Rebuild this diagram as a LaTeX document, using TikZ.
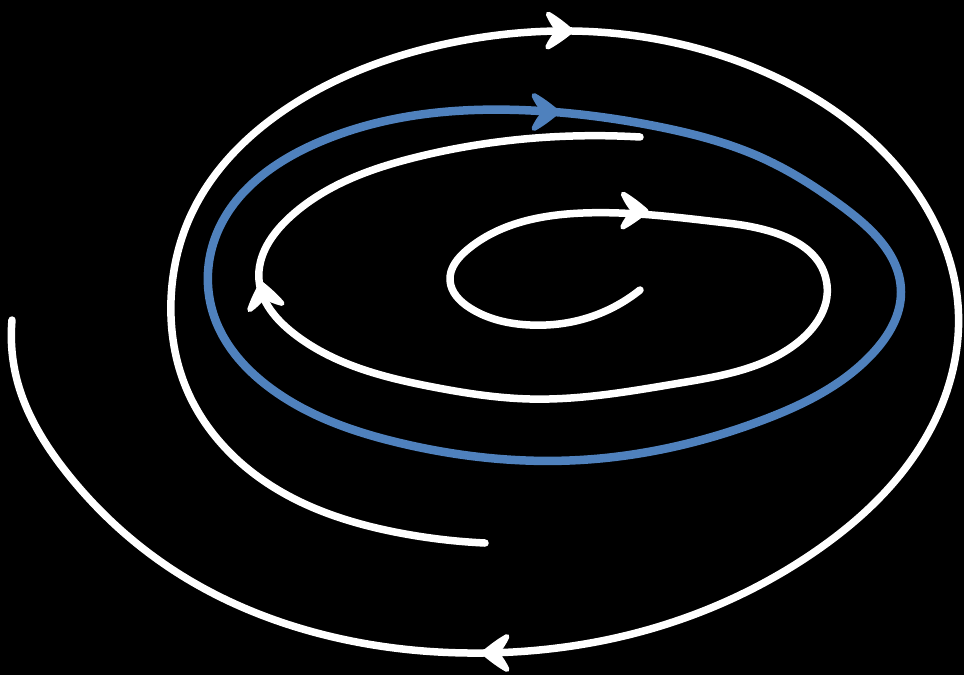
\documentclass[tikz,border=0pt]{standalone}
\usetikzlibrary{hobby}
\definecolor{cycleblue}{RGB}{79,129,189}
\begin{document}
\begin{tikzpicture}[x=1pt,y=-1pt,
  flow/.style={draw=white, line width=7.5pt, line cap=round, line join=round},
  limit/.style={draw=cycleblue, line width=8.5pt, line join=round},
  pics/headtip/.style={code={
    \filldraw[#1, line width=5pt, line join=round]
      (0,0) .. controls (-7,-6) and (-15,-12) .. (-23,-16.5)
      .. controls (-20,-10) and (-16,-4) .. (-12,0)
      .. controls (-16,4) and (-20,10) .. (-23,16.5)
      .. controls (-15,12) and (-7,6) .. (0,0) -- cycle;}}]
\fill[black] (0,0) rectangle (964,675);
\useasboundingbox (0,0) rectangle (964,675);
% limit cycle
\draw[limit, use Hobby shortcut, closed=true]
  (540,111) .. (660,127) .. (760,157) .. (843,207) .. (901,292)
  .. (873,353) .. (763,420) .. (580,460) .. (400,443)
  .. (273,390) .. (213,313) .. (217,233) .. (317,143) .. (540,111);
% outer spiral
\draw[flow, use Hobby shortcut]
  (485,543) .. (400,533) .. (267,483) .. (187,390)
  .. (171,300) .. (190,217) .. (300,100) .. (450,43)
  .. (572,31) .. (760,70) .. (910,183) .. (958,305)
  .. (930,430) .. (813,553) .. (647,630)
  .. (483,653) .. (333,637) .. (173,570)
  .. (67,473) .. (17,380) .. (12,320);
% inner spiral
\draw[flow, use Hobby shortcut]
  (640,290) .. (580,320) .. (530,325) .. (470,308) .. (450,280) .. (467,250)
  .. (583,213) .. (727,223) .. (827,285)
  .. (797,343) .. (680,383) .. (530,399) .. (433,387)
  .. (293,333) .. (259,280) .. (290,217) .. (417,157)
  .. (550,137) .. (640,137);
% arrowheads
\pic[rotate=-1] at (571,31) {headtip=white};
\pic at (557,112) {headtip={cycleblue}};
\pic[rotate=-1] at (646,211) {headtip=white};
\pic[rotate=101] at (261.5,284) {headtip=white};
\pic[rotate=180] at (484,653) {headtip=white};
\end{tikzpicture}
\end{document}
